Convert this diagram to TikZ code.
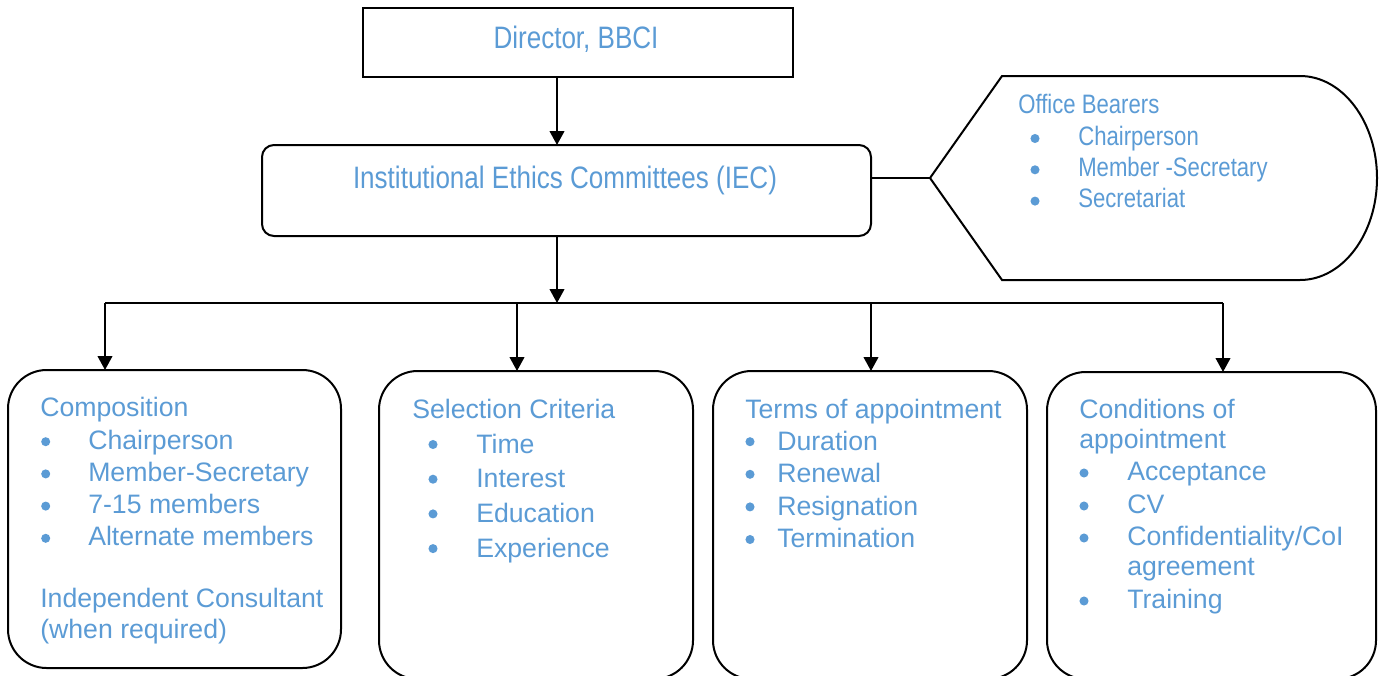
\documentclass[tikz,border=0pt]{standalone}
\usepackage{fontspec}
\setmainfont{Liberation Sans}
\newfontfamily\narrowfont{Liberation Sans}[FakeStretch=0.84]
\newfontfamily\hexfont{Liberation Sans}[FakeStretch=0.83]
\usetikzlibrary{arrows.meta}
\definecolor{txtblue}{HTML}{5B9BD5}
\begin{document}
\begin{tikzpicture}[x=0.75pt,y=-0.75pt,
  ln/.style={line width=1.5pt,draw=black},
  arr/.style={ln,-{Triangle[width=11pt,length=10.5pt]}},
  sqbox/.style={ln,rectangle,inner sep=0pt,outer sep=0pt},
  rbox/.style={ln,rectangle,rounded corners=9pt,inner sep=0pt,outer sep=0pt},
  bbox/.style={ln,rectangle,rounded corners=29pt,inner sep=0pt,outer sep=0pt},
  toptxt/.style={anchor=base,inner sep=0pt,text=txtblue,font=\narrowfont\fontsize{23.25}{28}\selectfont},
  itm/.style={anchor=base west,inner sep=0pt,text=txtblue,font=\fontsize{20}{24}\selectfont},
  hitm/.style={anchor=base west,inner sep=0pt,text=txtblue,font=\hexfont\fontsize{20}{24}\selectfont},
  dot/.style={circle,fill=txtblue,inner sep=0pt,minimum size=6.8pt}
]
\useasboundingbox (0,0) rectangle (1383,675);

% top boxes
\node[sqbox,minimum width=322.5pt,minimum height=51.75pt] (dir) at (578,42.5) {};
\node[toptxt] (dirt) at (576,48) {Director, BBCI};
\node[rbox,minimum width=456.75pt,minimum height=68.25pt] (iec) at (566.5,190.5) {};
\node[toptxt] (iect) at (565,188) {Institutional Ethics Committees (IEC)};

% coordinates
\coordinate (bus) at (557,303);
\coordinate (busL) at (105,303);
\coordinate (busB) at (517,303);
\coordinate (busC) at (871,303);
\coordinate (busR) at (1223,303);
\coordinate (tip) at (930,178);

% hexagon / display shape
\draw[ln,line join=miter] (tip) -- (1002,76) -- (1300,76)
  .. controls (1342.5,76) and (1377,121.7) .. (1377,178)
  .. controls (1377,234.3) and (1342.5,280) .. (1300,280)
  -- (1002,280) -- cycle;
\draw[ln] (iec.east |- tip) -- (tip);
\node[hitm] (ob) at (1018,113) {Office Bearers};
\foreach \t [count=\i from 0] in {Chairperson, Member -Secretary, Secretariat}
  {\node[dot] (obd\i) at (1035,{138.5+\i*31.3}) {};
   \node[hitm] (obt\i) at (1078,{145+\i*31.3}) {\t};}

% bottom boxes
\node[bbox,minimum width=249.75pt,minimum height=223.5pt] (b1) at (174.5,519) {};
\node[bbox,minimum width=235.5pt,minimum height=231pt] (b2) at (536,525) {};
\node[bbox,minimum width=235.5pt,minimum height=231pt] (b3) at (870,525) {};
\node[bbox,minimum width=246.75pt,minimum height=230.25pt] (b4) at (1211.5,525.5) {};

% connectors
\draw[arr] (dir.south -| bus) -- (iec.north -| bus);
\draw[arr] (iec.south -| bus) -- (bus);
\draw[ln] (busL) -- (busR);
\draw[arr] (busL) -- (b1.north -| busL);
\draw[arr] (busB) -- (b2.north -| busB);
\draw[arr] (busC) -- (b3.north -| busC);
\draw[arr] (busR) -- (b4.north -| busR);

% box 1
\node[itm] (c1h) at (40,416) {Composition};
\foreach \t [count=\i from 0] in {Chairperson, Member-Secretary, 7-15 members, Alternate members}
  {\node[dot] (c1d\i) at (45.7,{441.7+\i*32.2}) {};
   \node[itm] (c1t\i) at (88,{449+\i*32.2}) {\t};}
\node[itm] (c1x) at (40,607) {Independent Consultant};
\node[itm] (c1y) at (40,638) {(when required)};

% box 2
\node[itm] (c2h) at (412,418) {Selection Criteria};
\foreach \t [count=\i from 0] in {Time, Interest, Education, Experience}
  {\node[dot] (c2d\i) at (433,{444.5+\i*34.7}) {};
   \node[itm] (c2t\i) at (476,{453+\i*34.7}) {\t};}

% box 3
\node[itm] (c3h) at (745,418) {Terms of appointment};
\foreach \t [count=\i from 0] in {Duration, Renewal, Resignation, Termination}
  {\node[dot] (c3d\i) at (750,{441.7+\i*32.6}) {};
   \node[itm] (c3t\i) at (777,{450+\i*32.6}) {\t};}

% box 4
\node[itm] (c4h) at (1079,418) {Conditions of};
\node[itm] (c4h2) at (1079,448) {appointment};
\node[dot] (c4d0) at (1084,473) {};
\node[itm] (c4t0) at (1127,480) {Acceptance};
\node[dot] (c4d1) at (1084,506) {};
\node[itm] (c4t1) at (1127,513) {CV};
\node[dot] (c4d2) at (1084,538) {};
\node[itm] (c4t2) at (1127,545) {Confidentiality/CoI};
\node[itm] (c4t3) at (1127,575) {agreement};
\node[dot] (c4d3) at (1084,601) {};
\node[itm] (c4t4) at (1127,608) {Training};
\end{tikzpicture}
\end{document}
